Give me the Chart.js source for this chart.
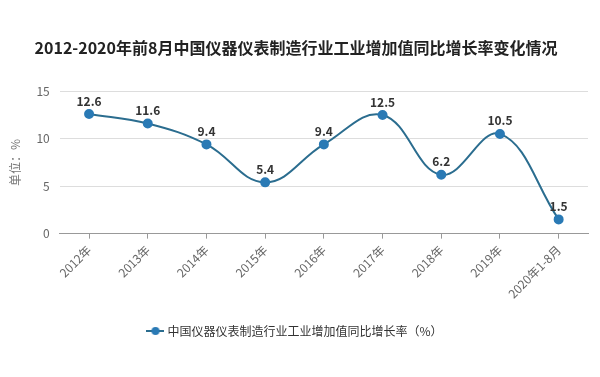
<!DOCTYPE html>
<html>
<head>
<meta charset="utf-8">
<script src="https://cdn.jsdelivr.net/npm/chart.js@4"></script>
<style>
  html, body { margin: 0; padding: 0; background: #fff; }
  #wrap { width: 600px; height: 377px; position: relative; }
</style>
</head>
<body>
<div id="wrap"><canvas id="myChart"></canvas></div>
<script>
    var categories = ['2012年', '2013年', '2014年', '2015年', '2016年', '2017年', '2018年', '2019年', '2020年1-8月'];
    var growthRate = [12.6, 11.6, 9.4, 5.4, 9.4, 12.5, 6.2, 10.5, 1.5];
    var seriesName = '中国仪器仪表制造行业工业增加值同比增长率（%）';
    var chartTitle = '2012-2020年前8月中国仪器仪表制造行业工业增加值同比增长率变化情况';

    var fontCN = '"Noto Sans CJK SC", "Noto Sans", sans-serif';
    var lineColor = '#2b6d8f';
    var pointColor = '#2a7ab5';

    // legend marker: short line with a dot in the middle
    var legendMark = document.createElement('canvas');
    legendMark.width = 18;
    legendMark.height = 10;
    var lm = legendMark.getContext('2d');
    lm.strokeStyle = lineColor;
    lm.lineWidth = 2;
    lm.beginPath(); lm.moveTo(0, 5); lm.lineTo(18, 5); lm.stroke();
    lm.fillStyle = pointColor;
    lm.beginPath(); lm.arc(9, 5, 4, 0, Math.PI * 2); lm.fill();

    // draw the value above each point
    const valueLabels = {
        id: 'valueLabels',
        afterDatasetsDraw(chart) {
            var c = chart.ctx;
            var meta = chart.getDatasetMeta(0);
            c.save();
            c.font = 'bold 12px ' + fontCN;
            c.fillStyle = '#333';
            c.textAlign = 'center';
            c.textBaseline = 'bottom';
            meta.data.forEach((pt, i) => {
                c.fillText(growthRate[i].toFixed(1), pt.x, pt.y - 7);
            });
            c.restore();
        }
    };

    var ctx = document.getElementById('myChart').getContext('2d');
    var lineChart = new Chart(ctx, {
        type: 'line',
        data: {
            labels: categories,
            datasets: [{
                label: seriesName,
                data: growthRate,
                borderColor: lineColor,
                backgroundColor: pointColor,
                borderWidth: 2,
                pointRadius: 4,
                pointHoverRadius: 4,
                pointBackgroundColor: pointColor,
                pointBorderColor: pointColor,
                pointStyle: 'circle',
                tension: 0.4,
                fill: false
            }]
        },
        options: {
            responsive: true,
            maintainAspectRatio: false,
            animation: false,
            layout: { padding: { left: 4, right: 12, top: 0, bottom: 30 } },
            plugins: {
                title: {
                    display: true,
                    text: chartTitle,
                    color: '#222',
                    font: { family: fontCN, size: 16, weight: 'bold' },
                    padding: { top: 38, bottom: 34 }
                },
                legend: {
                    position: 'bottom',
                    labels: {
                        color: '#333',
                        font: { family: fontCN, size: 12 },
                        usePointStyle: true,
                        pointStyle: legendMark,
                        padding: 20
                    }
                },
                tooltip: { enabled: false }
            },
            scales: {
                x: {
                    offset: true,
                    grid: {
                        display: true,
                        drawOnChartArea: false,
                        drawTicks: true,
                        tickLength: 5,
                        color: '#999',
                        offset: false
                    },
                    border: { color: '#999' },
                    ticks: {
                        color: '#666',
                        font: { family: fontCN, size: 12 },
                        maxRotation: 45,
                        minRotation: 45,
                        padding: 4
                    }
                },
                y: {
                    min: 0,
                    max: 15,
                    grid: { color: '#ddd', drawTicks: false },
                    border: { display: false },
                    ticks: {
                        stepSize: 5,
                        color: '#666',
                        font: { family: fontCN, size: 12 },
                        padding: 10
                    },
                    title: {
                        display: true,
                        text: '单位：%',
                        color: '#777',
                        font: { family: fontCN, size: 12 }
                    }
                }
            }
        },
        plugins: [valueLabels]
    });
</script>
</body>
</html>
